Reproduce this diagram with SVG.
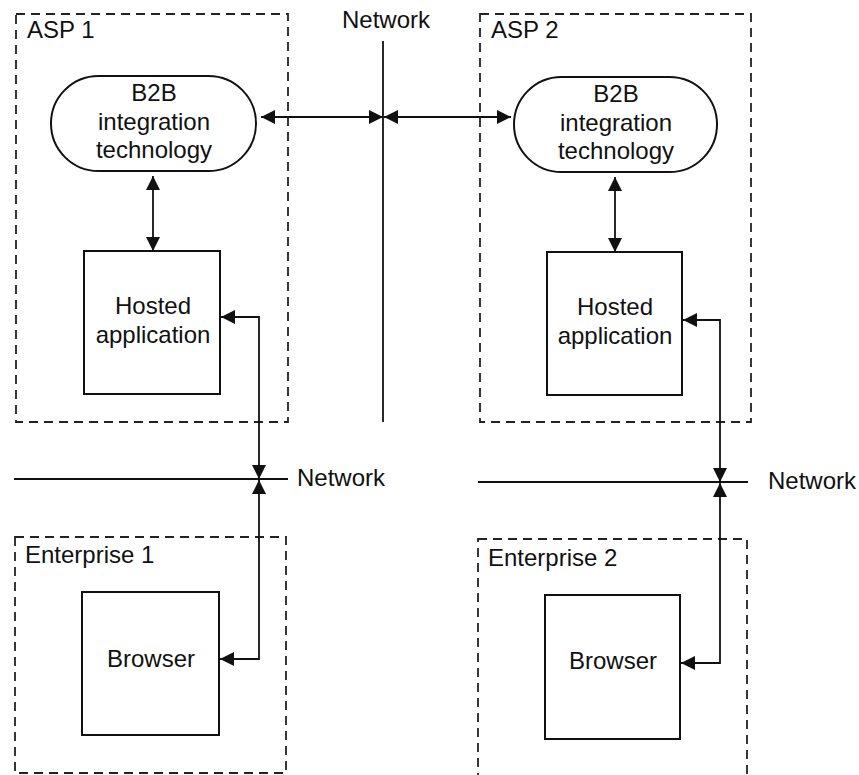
<svg xmlns="http://www.w3.org/2000/svg" width="859" height="775" viewBox="0 0 859 775">
<style>
text{font-family:"Liberation Sans",Arial,sans-serif;font-size:24px;fill:#111}
.c{text-anchor:middle}
.zone{fill:none;stroke:#222;stroke-width:1.8;stroke-dasharray:9 6}
.box{fill:#fff;stroke:#111;stroke-width:2}
.net{fill:none;stroke:#111;stroke-width:1.8}
.con{fill:none;stroke:#111;stroke-width:1.8;marker-start:url(#ah);marker-end:url(#ah)}
</style>
<defs>
<marker id="ah" markerUnits="userSpaceOnUse" markerWidth="16" markerHeight="16" refX="14" refY="7" orient="auto-start-reverse">
<path d="M0,0 L14,7 L0,14 z" fill="#111"/>
</marker>
</defs>
<g id="asp1">
<rect class="zone" x="16" y="14" width="272" height="408"/>
<text x="27" y="38">ASP 1</text>
</g>
<g id="asp2">
<rect class="zone" x="480" y="14" width="271" height="408"/>
<text x="491" y="38">ASP 2</text>
</g>
<g id="ent1">
<rect class="zone" x="15" y="537" width="271" height="236"/>
<text x="25" y="563">Enterprise 1</text>
</g>
<g id="ent2">
<rect class="zone" x="478" y="539" width="269" height="250"/>
<text x="488" y="566">Enterprise 2</text>
</g>
<g id="b2b1">
<rect class="box" x="51" y="76" width="205" height="95" rx="47.5"/>
<text class="c" x="154" y="101">B2B</text>
<text class="c" x="154" y="130">integration</text>
<text class="c" x="154" y="158">technology</text>
</g>
<g id="b2b2">
<rect class="box" x="514" y="77" width="203" height="95" rx="47.5"/>
<text class="c" x="616" y="102">B2B</text>
<text class="c" x="616" y="131">integration</text>
<text class="c" x="616" y="159">technology</text>
</g>
<g id="hosted1">
<rect class="box" x="84" y="251" width="136" height="143"/>
<text class="c" x="153" y="314">Hosted</text>
<text class="c" x="153" y="343">application</text>
</g>
<g id="hosted2">
<rect class="box" x="547" y="252" width="135" height="143"/>
<text class="c" x="615" y="315">Hosted</text>
<text class="c" x="615" y="344">application</text>
</g>
<g id="browser1">
<rect class="box" x="82" y="592" width="137" height="143"/>
<text class="c" x="151" y="667">Browser</text>
</g>
<g id="browser2">
<rect class="box" x="545" y="595" width="135" height="144"/>
<text class="c" x="613" y="669">Browser</text>
</g>
<g id="networks">
<line class="net" x1="383" y1="41" x2="383" y2="422"/>
<text x="342" y="28">Network</text>
<line class="net" x1="14" y1="479" x2="288" y2="479"/>
<text x="297" y="486">Network</text>
<line class="net" x1="478" y1="482" x2="748" y2="482"/>
<text x="768" y="489">Network</text>
</g>
<g id="connectors">
<line class="con" x1="261" y1="117" x2="383" y2="117"/>
<line class="con" x1="384" y1="117" x2="511" y2="117"/>
<line class="con" x1="153" y1="176" x2="153" y2="251"/>
<line class="con" x1="615" y1="177" x2="615" y2="252"/>
<path class="con" d="M221,317 H259 V479"/>
<path class="con" d="M259,480 V659 H220"/>
<path class="con" d="M683,320 H720 V482"/>
<path class="con" d="M720,483 V663 H681"/>
</g>
</svg>
